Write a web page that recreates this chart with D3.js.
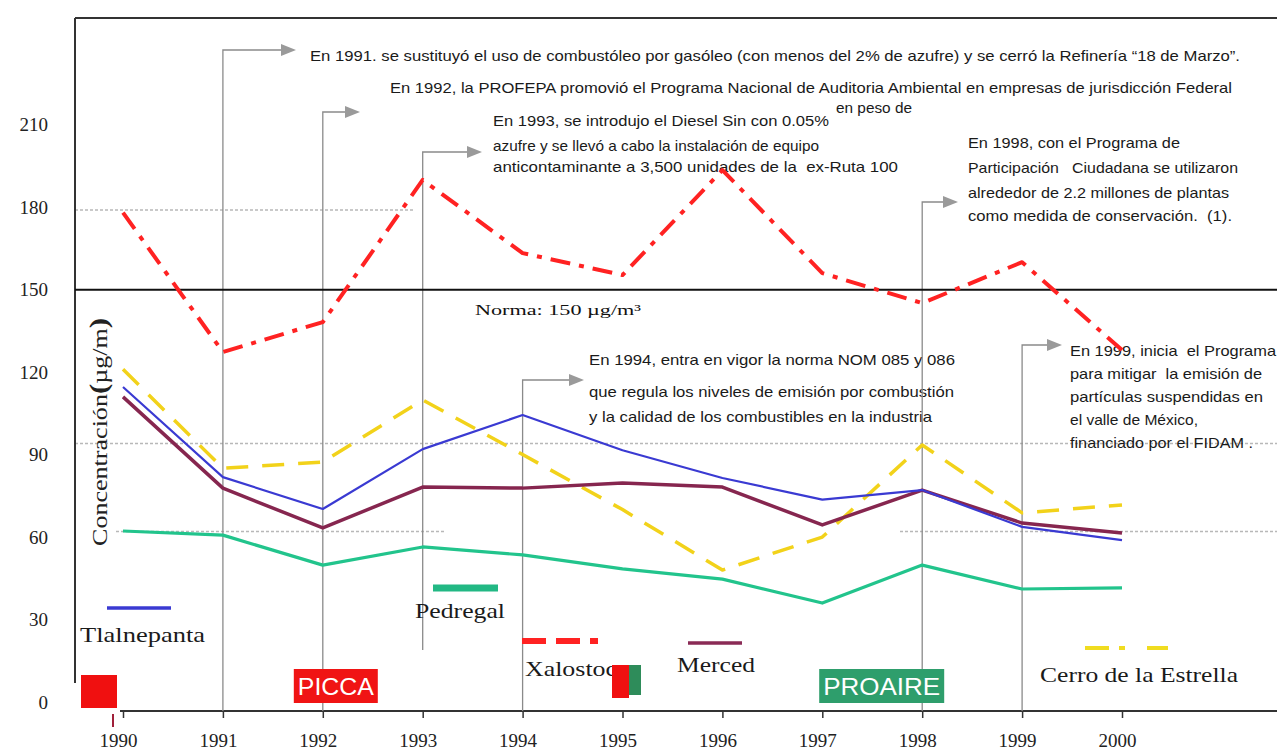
<!DOCTYPE html>
<html>
<head>
<meta charset="utf-8">
<script src="https://cdn.jsdelivr.net/npm/d3@7"></script>
<style>
  body { margin: 0; background: #fff; }
  svg { display: block; }
</style>
</head>
<body>
<svg id="chart" width="1277" height="753"></svg>
<script>
// PST annual concentrations (µg/m³) by monitoring station, 1990–2000
const years = [1990, 1991, 1992, 1993, 1994, 1995, 1996, 1997, 1998, 1999, 2000];
const yTicks = [0, 30, 60, 90, 120, 150, 180, 210];
const tlalnepanta = [114.6, 81.8, 70.2, 92.0, 104.4, 91.6, 81.5, 73.6, 77.1, 63.7, 58.9];
const merced      = [111.0, 77.8, 63.3, 78.2, 77.8, 79.7, 78.2, 64.4, 77.1, 65.1, 61.5];
const pedregal    = [62.2, 60.7, 49.8, 56.4, 53.5, 48.4, 44.7, 36.0, 49.8, 41.1, 41.5];
const cerro       = [121.0, 85.0, 87.3, 109.9, 90.0, 70.0, 48.0, 60.0, 93.5, 68.8, 71.7];
const xalostoc    = [178.0, 127.3, 138.2, 189.9, 163.3, 155.3, 193.5, 156.0, 145.1, 160.0, 128.0];
const stationNames = ["Tlalnepanta", "Pedregal", "Xalostoc", "Merced", "Cerro de la Estrella"];
const normaValue = 150;
const normaLabel = "Norma: 150 µg/m³";
const guideLevels = [179, 94, 62];

// Policy milestones
const milestoneYears = [1991, 1992, 1993, 1994, 1998, 1999];
const milestoneText = [
  ["En 1991. se sustituyó el uso de combustóleo por gasóleo (con menos del 2% de azufre) y se cerró la Refinería “18 de Marzo”."],
  ["En 1992, la PROFEPA promovió el Programa Nacional de Auditoria Ambiental en empresas de jurisdicción Federal"],
  ["En 1993, se introdujo el Diesel Sin con 0.05%", "azufre y se llevó a cabo la instalación de equipo", "anticontaminante a 3,500 unidades de la  ex-Ruta 100"],
  ["En 1994, entra en vigor la norma NOM 085 y 086", "que regula los niveles de emisión por combustión", "y la calidad de los combustibles en la industria"],
  ["En 1998, con el Programa de", "Participación   Ciudadana se utilizaron", "alrededor de 2.2 millones de plantas", "como medida de conservación.  (1)."],
  ["En 1999, inicia  el Programa", "para mitigar  la emisión de", "partículas suspendidas en", "el valle de México,", "financiado por el FIDAM ."]
];
const extraNote = "en peso de";
const programLabels = ["PICCA", "PROAIRE"];
const programYears = [1992, 1998];

const svg = d3.select("#chart");
const W = 1277;
const x = d3.scalePoint().domain(years).range([123, 1122]);
const y = d3.scaleLinear().domain([0, 210]).range([702, 124.7]);
const axisY = 711;
const serif = "'Liberation Serif', 'DejaVu Serif', serif";
const narrow = "'Liberation Sans Narrow', 'Arial Narrow', 'Liberation Sans', sans-serif";

// dotted guide lines
const guideSpans = [[[75, 414]], [[75, W]], [[116, 446], [900, W]]];
guideLevels.forEach((lv, i) => {
  guideSpans[i].forEach(([a, b]) => {
    svg.append("line").attr("x1", a).attr("x2", b)
      .attr("y1", y(lv)).attr("y2", y(lv))
      .attr("stroke", "#b8b8b8").attr("stroke-width", 1.5)
      .attr("stroke-dasharray", "3,2");
  });
});

// frame: top rule and left rule
svg.append("line").attr("x1", 75).attr("x2", W).attr("y1", 18).attr("y2", 18)
  .attr("stroke", "#333").attr("stroke-width", 2);
svg.append("line").attr("x1", 75).attr("x2", 75).attr("y1", 18).attr("y2", 683)
  .attr("stroke", "#333").attr("stroke-width", 2);

// y tick labels
svg.append("g").selectAll("text").data(yTicks).join("text")
  .attr("x", 48).attr("y", d => y(d)).attr("dy", "0.35em")
  .attr("text-anchor", "end")
  .attr("font-family", serif).attr("font-size", 19).attr("fill", "#222")
  .text(d => d);

// y axis title
const yt = svg.append("text")
  .attr("transform", `translate(107,432) rotate(-90)`)
  .attr("text-anchor", "middle")
  .attr("font-family", serif).attr("fill", "#222")
  .attr("textLength", 228).attr("lengthAdjust", "spacingAndGlyphs");
yt.append("tspan").attr("font-size", 22).text("Concentración");
yt.append("tspan").attr("font-size", 26).attr("font-weight", "bold").text("(");
yt.append("tspan").attr("font-size", 22).text("µg/m");
yt.append("tspan").attr("font-size", 26).attr("font-weight", "bold").text(")");

// x axis
svg.append("line").attr("x1", x(1990) - 3).attr("x2", W).attr("y1", axisY).attr("y2", axisY)
  .attr("stroke", "#333").attr("stroke-width", 2);
const xa = svg.append("g").attr("transform", `translate(0,${axisY})`)
  .call(d3.axisBottom(x).tickSize(7).tickFormat(d => d));
xa.select(".domain").remove();
xa.selectAll(".tick line").attr("stroke", "#333").attr("stroke-width", 1.5);
xa.selectAll(".tick text").attr("y", 36).attr("dy", 0).attr("x", -5)
  .attr("font-family", serif).attr("font-size", 19).attr("fill", "#222");

// milestone connectors and notes
const noteLayout = {
  1991: { elbow: 50, bottom: axisY, tip: 296, tx: 310, base: [61], w: [930] },
  1992: { elbow: 112, bottom: axisY, tip: 360, tx: 390, base: [93], w: [842] },
  1993: { elbow: 152, bottom: 650, tip: 482, tx: 493, base: [126, 151, 172], w: [336, 326, 405] },
  1994: { elbow: 380, bottom: axisY, tip: 584, tx: 589, base: [365, 397, 422], w: [366, 365, 343] },
  1998: { elbow: 202, bottom: axisY, tip: 958, tx: 968, base: [148, 173, 198, 221], w: [212, 270, 261, 264] },
  1999: { elbow: 345, bottom: axisY, tip: 1062, tx: 1070, base: [356, 379, 402, 425, 448], w: [206, 192, 193, 128, 183] }
};
milestoneYears.forEach((yr, i) => {
  const L = noteLayout[yr];
  const vx = x(yr);
  svg.append("path")
    .attr("d", `M${vx},${L.bottom}V${L.elbow}H${L.tip - 14}`)
    .attr("fill", "none").attr("stroke", "#8a8a8a").attr("stroke-width", 1.3);
  svg.append("path")
    .attr("d", `M${L.tip - 15},${L.elbow - 6}L${L.tip},${L.elbow}L${L.tip - 15},${L.elbow + 6}Z`)
    .attr("fill", "#9a9a9a");
  milestoneText[i].forEach((t, j) => {
    svg.append("text").attr("x", L.tx).attr("y", L.base[j])
      .attr("font-family", narrow).attr("font-size", 15).attr("fill", "#1a1a1a")
      .attr("textLength", L.w[j]).attr("lengthAdjust", "spacingAndGlyphs")
      .style("white-space", "pre")
      .text(t);
  });
});
svg.append("text").attr("x", 836).attr("y", 113)
  .attr("font-family", narrow).attr("font-size", 14).attr("fill", "#1a1a1a")
  .attr("textLength", 76).attr("lengthAdjust", "spacingAndGlyphs")
  .text(extraNote);

// norma line
svg.append("line").attr("x1", 75).attr("x2", W)
  .attr("y1", y(normaValue)).attr("y2", y(normaValue))
  .attr("stroke", "#111").attr("stroke-width", 2);
svg.append("text").attr("x", 475).attr("y", y(normaValue) + 25)
  .attr("font-family", serif).attr("font-size", 15).attr("fill", "#111")
  .attr("textLength", 166).attr("lengthAdjust", "spacingAndGlyphs")
  .text(normaLabel);

// station series
const line = d3.line().x((d, i) => x(years[i])).y(d => y(d));
const series = [
  { values: pedregal,    color: "#22c48c", width: 3.2, dash: null },
  { values: cerro,       color: "#f2d21a", width: 3.5, dash: "22,14" },
  { values: merced,      color: "#86264f", width: 3.5, dash: null },
  { values: tlalnepanta, color: "#3a3ad2", width: 2.2, dash: null },
  { values: xalostoc,    color: "#ff2222", width: 4,   dash: "20,9,5,9" }
];
series.forEach(s => {
  svg.append("path").datum(s.values)
    .attr("d", line)
    .attr("fill", "none")
    .attr("stroke", s.color)
    .attr("stroke-width", s.width)
    .attr("stroke-linejoin", "round")
    .attr("stroke-dasharray", s.dash);
});

// legend samples and names
const legendLayout = [
  { x1: 107, x2: 171, ly: 608, tx: 80,   ty: 642, tw: 125, color: "#3a3ad2", width: 3.5, dash: null },
  { x1: 433, x2: 498, ly: 588, tx: 415,  ty: 618, tw: 90,  color: "#22b884", width: 7,   dash: null },
  { x1: 522, x2: 606, ly: 641, tx: 525,  ty: 676, tw: 92,  color: "#ff2222", width: 6,   dash: "24,10,24,10,8" },
  { x1: 688, x2: 742, ly: 643, tx: 677,  ty: 672, tw: 78,  color: "#8a2a55", width: 3.5, dash: null },
  { x1: 1085, x2: 1168, ly: 648, tx: 1040, ty: 682, tw: 198, color: "#f0dc20", width: 4, dash: "24,10,6,22" }
];
stationNames.forEach((name, i) => {
  const L = legendLayout[i];
  svg.append("line").attr("x1", L.x1).attr("x2", L.x2).attr("y1", L.ly).attr("y2", L.ly)
    .attr("stroke", L.color).attr("stroke-width", L.width).attr("stroke-dasharray", L.dash);
  svg.append("text").attr("x", L.tx).attr("y", L.ty)
    .attr("font-family", serif).attr("font-size", 21).attr("fill", "#1a1a1a")
    .attr("textLength", L.tw).attr("lengthAdjust", "spacingAndGlyphs")
    .text(name);
});

// program badges
const badgeLayout = [
  { w: 84, fill: "#f01414", dx: -29 },
  { w: 125, fill: "#2e9e6c", dx: -103 }
];
programLabels.forEach((lab, i) => {
  const B = badgeLayout[i];
  const bx = x(programYears[i]) + B.dx;
  svg.append("rect").attr("x", bx).attr("y", 669).attr("width", B.w).attr("height", 34).attr("fill", B.fill);
  svg.append("text").attr("x", bx + B.w / 2).attr("y", 695)
    .attr("text-anchor", "middle")
    .attr("font-family", "'Liberation Sans', Arial, sans-serif").attr("font-size", 24)
    .attr("fill", "#fff")
    .attr("textLength", B.w - 8).attr("lengthAdjust", "spacingAndGlyphs")
    .text(lab);
});

// colour markers near the baseline
svg.append("rect").attr("x", 81).attr("y", 675).attr("width", 36).attr("height", 33).attr("fill", "#f01010");
svg.append("line").attr("x1", 113).attr("x2", 113).attr("y1", 714).attr("y2", 727)
  .attr("stroke", "#a0203a").attr("stroke-width", 2);
svg.append("rect").attr("x", 612).attr("y", 665).attr("width", 17).attr("height", 33).attr("fill", "#f01010");
svg.append("rect").attr("x", 629).attr("y", 665).attr("width", 12).attr("height", 30).attr("fill", "#2e8c5a");
</script>
</body>
</html>
